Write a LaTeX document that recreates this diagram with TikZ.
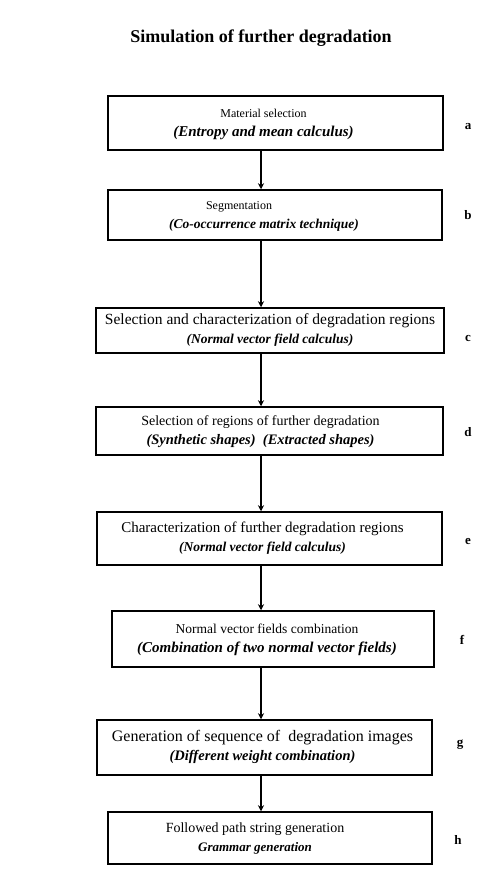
\documentclass[tikz,border=0pt]{standalone}
\usepackage{fontspec}
\setmainfont{Liberation Serif}
\usetikzlibrary{arrows.meta}

\newcommand{\sz}[1]{\fontsize{#1}{19}\selectfont}
% text block, moved left inside its box by #1
\newcommand{\twolines}[3]{\begin{tabular}{@{}c@{}}#2\\ #3\end{tabular}\hspace*{#1}}

\begin{document}
\begin{tikzpicture}[x=1pt,y=-1pt,
    stage/.style={draw, line width=1.5pt, inner sep=2pt,
      font=\fontsize{14}{19}\selectfont},
    tag/.style={font=\fontsize{13}{15}\selectfont\bfseries},
    >={Stealth[length=6pt,width=6pt]}]
    \useasboundingbox (0,0) rectangle (481,877);

    % Title
    \node[font=\fontsize{18}{21}\selectfont\bfseries] (title) at (261,38) {Simulation of further degradation};

    % Nodes
    \node[stage, minimum width=335pt, minimum height=54pt] (a) at (275.5,123)
      {\twolines{24pt}{\sz{12}Material selection}{\sz{15}\textbf{\textit{(Entropy and mean calculus)}}}};
    \node[stage, minimum width=334pt, minimum height=50pt] (b) at (275,215)
      {\twolines{22pt}{\sz{12}Segmentation\hspace*{50pt}}{\sz{13.5}\textbf{\textit{(Co-occurrence matrix technique)}}}};
    \node[stage, minimum width=348pt, minimum height=45pt] (c) at (270,330.5)
      {\twolines{0pt}{\sz{15.5}Selection and characterization of degradation regions}{\sz{13.5}\textbf{\textit{(Normal vector field calculus)}}}};
    \node[stage, minimum width=347pt, minimum height=48pt] (d) at (269.5,431)
      {\twolines{18pt}{\sz{14}Selection of regions of further degradation}{\sz{14.5}\textbf{\textit{(Synthetic shapes)\ \ (Extracted shapes)}}}};
    \node[stage, minimum width=345pt, minimum height=53pt] (e) at (269.5,538.5)
      {\twolines{14pt}{\sz{15}Characterization of further degradation regions}{\sz{13.5}\textbf{\textit{(Normal vector field calculus)}}}};
    \node[stage, minimum width=322pt, minimum height=56pt] (f) at (273,639)
      {\twolines{12pt}{\sz{13.5}Normal vector fields combination}{\sz{15}\textbf{\textit{(Combination of two normal vector fields)}}}};
    \node[stage, minimum width=335pt, minimum height=55pt] (g) at (264.5,747.5)
      {\twolines{4pt}{\sz{16}Generation of sequence of\ \ degradation images}{\sz{14.5}\textbf{\textit{(Different weight combination)}}}};
    \node[stage, minimum width=324pt, minimum height=52pt] (h) at (270,838)
      {\twolines{30pt}{\sz{14}Followed path string generation}{\sz{13}\textbf{\textit{Grammar generation}}}};

    % Labels
    \node[tag] (la) at (468,127) {a};
    \node[tag] (lb) at (468,215) {b};
    \node[tag] (lc) at (468,338) {c};
    \node[tag] (ld) at (468,432) {d};
    \node[tag] (le) at (468,541) {e};
    \node[tag] (lf) at (462,640) {f};
    \node[tag] (lg) at (460,745) {g};
    \node[tag] (lh) at (458,840) {h};

    % Arrows
    \coordinate (spine) at (261,0);
    \draw[->, line width=1.3pt] (a.south -| spine) -- (b.north -| spine);
    \draw[->, line width=1.3pt] (b.south -| spine) -- (c.north -| spine);
    \draw[->, line width=1.3pt] (c.south -| spine) -- (d.north -| spine);
    \draw[->, line width=1.3pt] (d.south -| spine) -- (e.north -| spine);
    \draw[->, line width=1.3pt] (e.south -| spine) -- (f.north -| spine);
    \draw[->, line width=1.3pt] (f.south -| spine) -- (g.north -| spine);
    \draw[->, line width=1.3pt] (g.south -| spine) -- (h.north -| spine);
\end{tikzpicture}
\end{document}
